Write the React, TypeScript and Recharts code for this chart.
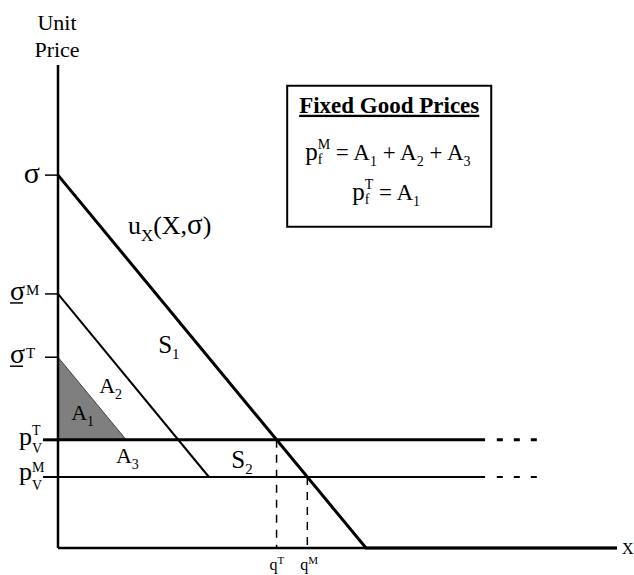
import { ComposedChart, Line, Area, XAxis, YAxis, ReferenceDot, ReferenceArea } from "recharts";

const SERIF = '"Liberation Serif", "Times New Roman", serif';

// 縦軸の目盛り（価格水準）
const priceTickValues = [77.2, 52.6, 39.5, 22.4, 14.7];
const priceTickKeys = ["sigma", "sigmaM", "sigmaT", "pvT", "pvM"];

// 横軸の目盛り（数量 q^T, q^M）
const qtyTickValues = [39.1, 44.6];
const qtyTickSups = ["T", "M"];

// 需要曲線 u_x(X,σ)：X軸に当たったあとは軸に沿って太線
const demandX = [0, 55.1, 100];
const demandY = [77.2, 0, 0];

// σ^M から出る平行線
const sigmaMLineX = [0, 27.0];
const sigmaMLineY = [52.6, 14.7];

// σ^T から出る平行線（A1 の三角形）
const sigmaTLineX = [0, 12.2];
const sigmaTLineY = [39.5, 22.4];

// 価格 p_V^T, p_V^M の水平線（実線部分・破線部分）
const priceSolidX = [0, 76.4];
const priceDashX = [78.5, 85.7];

// q^T, q^M の縦の破線
const qDropX = [39.1, 44.6];
const qDropTop = [22.4, 14.7];

// 図中ラベル
const labelKeys = ["ux", "S1", "A2", "A1", "A3", "S2"];
const labelX = [12.5, 20.4, 10.2, 5.2, 13.2, 33.5];
const labelY = [65.0, 40.4, 32.1, 26.5, 17.6, 16.6];

const pts = (xs: number[], ys: number[]) => xs.map((x, i) => ({ x, y: ys[i] }));

const demand = pts(demandX, demandY);
const sigmaMLine = pts(sigmaMLineX, sigmaMLineY);
const sigmaTLine = pts(sigmaTLineX, sigmaTLineY);
const pvTSolid = pts(priceSolidX, [priceTickValues[3], priceTickValues[3]]);
const pvMSolid = pts(priceSolidX, [priceTickValues[4], priceTickValues[4]]);
const pvTDash = pts(priceDashX, [priceTickValues[3], priceTickValues[3]]);
const pvMDash = pts(priceDashX, [priceTickValues[4], priceTickValues[4]]);
const qTDrop = pts([qDropX[0], qDropX[0]], [qDropTop[0], 0]);
const qMDrop = pts([qDropX[1], qDropX[1]], [qDropTop[1], 0]);

// 縦軸の目盛りラベル（添字つき）。x は軸線の位置
function PriceTick(props: any) {
  const { y, payload } = props;
  const x = 58;
  const key = priceTickKeys[priceTickValues.indexOf(payload.value)];
  const t = { fontFamily: SERIF, fill: "#000" };
  if (key === "sigma") {
    return (
      <g>
        <line x1={x - 13} x2={x} y1={y} y2={y} stroke="#000" strokeWidth={1.5} />
        <text {...t} x={x - 18} y={y + 8} textAnchor="end" fontSize={30}>σ</text>
      </g>
    );
  }
  if (key === "sigmaM" || key === "sigmaT") {
    return (
      <g>
        <line x1={x - 13} x2={x} y1={y} y2={y} stroke="#000" strokeWidth={1.5} />
        <text {...t} x={x - 33} y={y + 6} textAnchor="end" fontSize={28}>σ</text>
        <line x1={x - 48} x2={x - 35} y1={y + 9} y2={y + 9} stroke="#000" strokeWidth={1.5} />
        <text {...t} x={x - 32} y={y + 1} fontSize={15}>{key === "sigmaM" ? "M" : "T"}</text>
      </g>
    );
  }
  const isT = key === "pvT";
  return (
    <g>
      <line x1={x - 15} x2={x} y1={y} y2={y} stroke="#000" strokeWidth={isT ? 3 : 2} />
      <text {...t} x={x - 26} y={y + (isT ? 5 : 3)} textAnchor="end" fontSize={26}>p</text>
      <text {...t} x={x - 26} y={y - 5} fontSize={14}>{isT ? "T" : "M"}</text>
      <text {...t} x={x - 26} y={y + 13} fontSize={14}>V</text>
    </g>
  );
}

// 横軸の目盛りラベル q^T, q^M。y は軸線の位置
function QtyTick(props: any) {
  const { x, payload } = props;
  const y = 548;
  const sup = qtyTickSups[qtyTickValues.indexOf(payload.value)];
  return (
    <g fontFamily={SERIF} fill="#000">
      <text x={x + 1} y={y + 22} textAnchor="end" fontSize={16}>q</text>
      <text x={x + 1} y={y + 16} fontSize={11}>{sup}</text>
    </g>
  );
}

// 図中の記号ラベル
function renderLabel(key: string) {
  return (props: any) => {
    const { x, y } = props.viewBox;
    const t = { fontFamily: SERIF, fill: "#000" };
    if (key === "ux") {
      return (
        <text {...t} x={x} y={y} fontSize={26} style={{ whiteSpace: "pre" }}>
          <tspan>u</tspan>
          <tspan fontSize={17} dy={7}>X</tspan>
          <tspan dy={-7}>(X,</tspan>
          <tspan fontSize={29}>σ</tspan>
          <tspan>)</tspan>
        </text>
      );
    }
    const base = key[0];
    const sub = key[1];
    const big = base === "S";
    return (
      <g>
        <text {...t} x={x} y={y} textAnchor="end" fontSize={big ? 25 : 22}>{base}</text>
        <text {...t} x={x} y={y + 6} fontSize={big ? 15 : 14}>{sub}</text>
      </g>
    );
  };
}

// 右上の枠「Fixed Good Prices」
function BoxContent(props: any) {
  const { x, y, width } = props.viewBox;
  const t = { fontFamily: SERIF, fill: "#000", style: { whiteSpace: "pre" as const } };
  return (
    <g>
      <text {...t} x={x + width / 2} y={y + 27} textAnchor="middle" fontSize={23} fontWeight="bold" textDecoration="underline">
        Fixed Good Prices
      </text>
      <text {...t} x={x + 18} y={y + 74} fontSize={23}>
        <tspan fontSize={25}>p</tspan>
        <tspan fontSize={14} dy={-11}>M</tspan>
        <tspan fontSize={14} dx={-12.4} dy={15}>f</tspan>
        <tspan dx={7.7} dy={-4}>{" = A"}</tspan>
        <tspan fontSize={14} dy={6}>1</tspan>
        <tspan dy={-6}>{" + A"}</tspan>
        <tspan fontSize={14} dy={6}>2</tspan>
        <tspan dy={-6}>{" + A"}</tspan>
        <tspan fontSize={14} dy={6}>3</tspan>
      </text>
      <text {...t} x={x + 65} y={y + 114} fontSize={23}>
        <tspan fontSize={25}>p</tspan>
        <tspan fontSize={14} dy={-11}>T</tspan>
        <tspan fontSize={14} dx={-8.5} dy={15}>f</tspan>
        <tspan dx={3.8} dy={-4}>{" = A"}</tspan>
        <tspan fontSize={14} dy={6}>1</tspan>
      </text>
    </g>
  );
}

export default function App() {
  const thin = { type: "linear" as const, dataKey: "y", dot: false, activeDot: false, isAnimationActive: false, stroke: "#000" };
  return (
    <div style={{ position: "absolute", left: 0, top: 0, background: "#fff" }}>
      <ComposedChart width={634} height={575} margin={{ top: 65, right: 17, bottom: 0, left: 0 }}>
        <XAxis
          type="number"
          dataKey="x"
          domain={[0, 100]}
          ticks={qtyTickValues}
          interval={0}
          height={27}
          tickLine={false}
          axisLine={{ stroke: "#000", strokeWidth: 2.5 }}
          tick={<QtyTick />}
        />
        <YAxis
          type="number"
          domain={[0, 100]}
          ticks={priceTickValues}
          interval={0}
          width={58}
          tickLine={false}
          axisLine={{ stroke: "#000", strokeWidth: 2.5 }}
          tick={<PriceTick />}
        />

        {/* A1 の網掛け三角形 */}
        <Area
          data={sigmaTLine}
          dataKey="y"
          type="linear"
          baseValue={priceTickValues[3]}
          fill="#7f7f7f"
          fillOpacity={1}
          stroke="#444"
          strokeWidth={1}
          dot={false}
          activeDot={false}
          isAnimationActive={false}
        />

        <Line {...thin} data={sigmaMLine} strokeWidth={2} />
        <Line {...thin} data={pvMSolid} strokeWidth={2} />
        <Line {...thin} data={pvMDash} strokeWidth={2} strokeDasharray="6 11" />
        <Line {...thin} data={pvTSolid} strokeWidth={3} />
        <Line {...thin} data={pvTDash} strokeWidth={3} strokeDasharray="6 11" />
        <Line {...thin} data={qTDrop} strokeWidth={1.5} strokeDasharray="8 7" />
        <Line {...thin} data={qMDrop} strokeWidth={1.5} strokeDasharray="8 7" />
        <Line {...thin} data={demand} strokeWidth={3} />

        <ReferenceArea
          x1={41.0}
          x2={77.5}
          y1={66.5}
          y2={95.7}
          fill="#fff"
          fillOpacity={1}
          stroke="#000"
          strokeWidth={2}
          label={<BoxContent />}
        />

        {labelKeys.map((k, i) => (
          <ReferenceDot key={k} x={labelX[i]} y={labelY[i]} r={0} fill="none" stroke="none" label={{ content: renderLabel(k) }} />
        ))}

        {/* 軸の見出し */}
        <ReferenceDot
          x={0}
          y={100}
          r={0}
          fill="none"
          stroke="none"
          ifOverflow="visible"
          label={{
            content: (p: any) => (
              <g fontFamily={SERIF} fill="#000" fontSize={22} textAnchor="middle">
                <text x={p.viewBox.x - 1} y={p.viewBox.y - 35}>Unit</text>
                <text x={p.viewBox.x - 1} y={p.viewBox.y - 8}>Price</text>
              </g>
            ),
          }}
        />
        <ReferenceDot
          x={100}
          y={0}
          r={0}
          fill="none"
          stroke="none"
          ifOverflow="visible"
          label={{
            content: (p: any) => (
              <text x={p.viewBox.x + 5} y={p.viewBox.y + 6} fontFamily={SERIF} fontSize={16} fill="#000">X</text>
            ),
          }}
        />
      </ComposedChart>
    </div>
  );
}
